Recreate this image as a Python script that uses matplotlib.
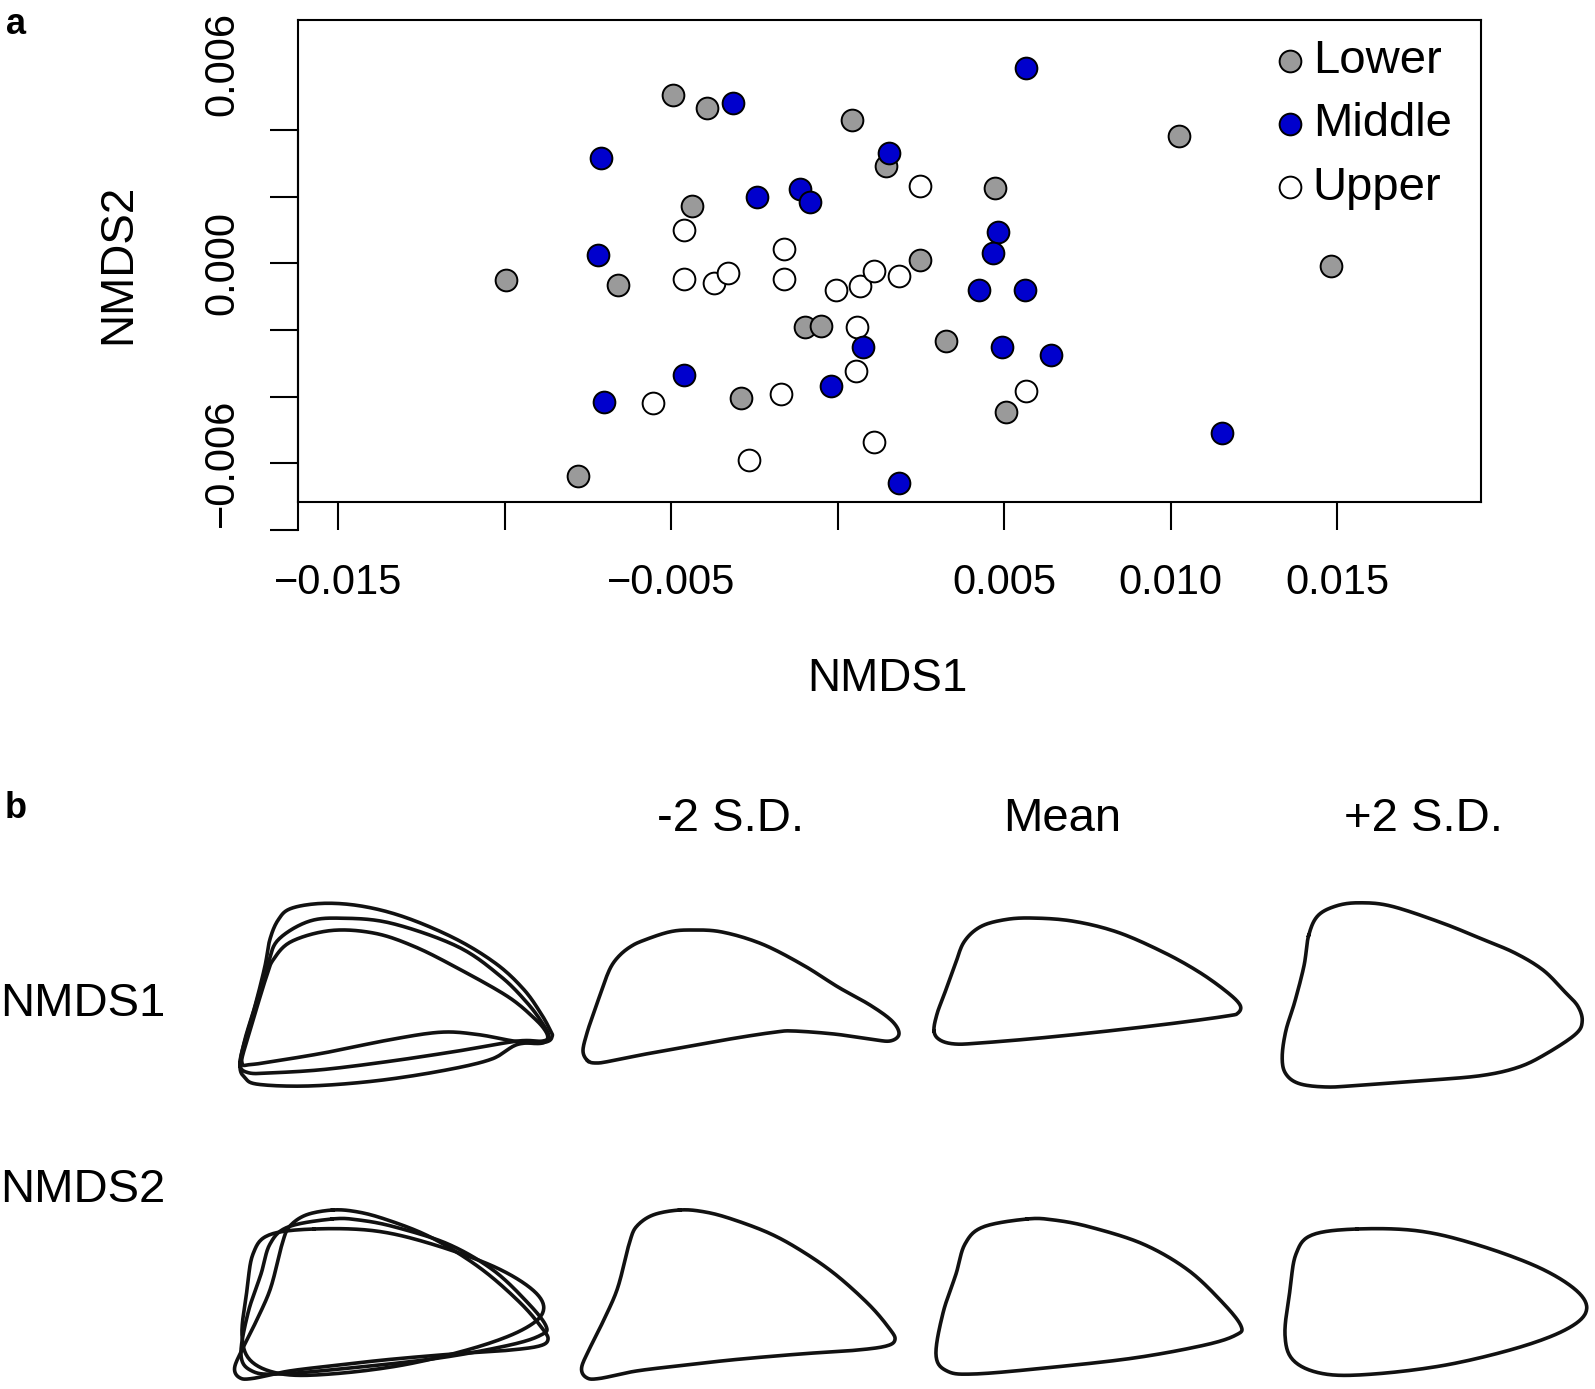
import numpy as np
import matplotlib
matplotlib.use("Agg")
import matplotlib.pyplot as plt
from matplotlib.ticker import FixedLocator, FixedFormatter

plt.rcParams['font.family'] = ['Liberation Sans', 'DejaVu Sans']

# ---------------- data: NMDS scores (panel a) ----------------
lower_x = [-0.00496, -0.00393, 0.00043, 0.01025, 0.00144, -0.00438, 0.00472, -0.00997, -0.00660,
           0.00246, -0.00099, -0.00050, 0.00324, -0.00290, 0.00504, -0.00780, 0.01480]
lower_y = [0.00505, 0.00467, 0.00430, 0.00383, 0.00294, 0.00171, 0.00227, -0.00050, -0.00065,
           0.00009, -0.00191, -0.00188, -0.00233, -0.00403, -0.00447, -0.00638, -0.00009]
middle_x = [0.00565, -0.00316, -0.00710, 0.00154, -0.00243, -0.00113, -0.00084, -0.00721, 0.00480,
            0.00467, 0.00423, 0.00561, 0.00076, 0.00493, 0.00640, -0.00461, -0.00020, -0.00703,
            0.01153, 0.00185]
middle_y = [0.00588, 0.00483, 0.00318, 0.00333, 0.00199, 0.00224, 0.00183, 0.00024, 0.00094,
            0.00030, -0.00080, -0.00080, -0.00250, -0.00252, -0.00274, -0.00335, -0.00367, -0.00415,
            -0.00509, -0.00659]
upper_x = [0.00246, -0.00463, -0.00160, -0.00463, -0.00371, -0.00331, -0.00160, -0.00006, 0.00066,
           0.00108, 0.00185, 0.00058, 0.00054, 0.00564, -0.00170, -0.00554, 0.00108, -0.00267]
upper_y = [0.00232, 0.00100, 0.00042, -0.00047, -0.00059, -0.00029, -0.00047, -0.00079, -0.00067,
           -0.00024, -0.00039, -0.00192, -0.00323, -0.00382, -0.00393, -0.00418, -0.00536, -0.00591]
group_names = ['Lower', 'Middle', 'Upper']

x_ticks = [-0.015, -0.010, -0.005, 0.000, 0.005, 0.010, 0.015]
x_ticklabels = ['\u22120.015', '', '\u22120.005', '', '0.005', '0.010', '0.015']
y_ticks = [-0.008, -0.006, -0.004, -0.002, 0.000, 0.002, 0.004]
y_label_pos = [-0.006, 0.000, 0.006]
y_ticklabels = ['\u22120.006', '0.000', '0.006']

# ---------------- data: digitised outlines (panel b) ----------------
row1_minus = [(588,1061),(583,1051),(587,1033),(593,1015),(600,995),(606,978),(612,965),(620,955),
              (630,947),(642,941),(669,932),(691,930),(722,932),(762,944),(803,965),(838,987),
              (870,1005),(892,1021),(899,1034),(890,1041),(870,1039),(834,1034),(794,1031),
              (776,1032),(736,1038),(691,1046),(646,1054),(611,1061),(597,1063)]
row1_mean = [(934,1031),(937,1014),(944,995),(955,965),(964,942),(980,927),(1003,920),(1030,918),
             (1072,921),(1117,932),(1163,952),(1199,972),(1227,992),(1240,1005),(1238,1013),
             (1227,1016),(1176,1023),(1108,1031),(1040,1038),(980,1043),(955,1044),(940,1040)]
row1_plus = [(1308.6,935.7),(1317.7,915.9),(1336,906),(1358.8,902.8),(1390.7,906),(1440.9,922.5),
             (1481.9,939),(1515,953),(1543,970),(1564,991),(1577.7,1006),(1582.2,1021.2),
             (1575.4,1034.3),(1545.8,1054),(1518.4,1067.2),(1481.9,1075.5),(1427.2,1080.4),
             (1358.8,1085.3),(1326.9,1087),(1299.5,1083.7),(1285.8,1073.8),(1282.2,1057.4),
             (1285.8,1031),(1294.9,1001.4),(1304.1,965.3)]
row2_minus = [(679.6,1210),(653,1215),(636.4,1226.6),(629.8,1241.5),(624.8,1261.4),(616.5,1291.3),
              (603.2,1321.2),(590,1347.8),(581.6,1367.8),(586.6,1377.7),(600,1378.4),(636.4,1371),
              (686.3,1365),(736,1359.5),(802.6,1353.8),(852.4,1350.5),(885.6,1346.2),(895,1339.5),
              (889,1328),(869,1304.6),(835.8,1274.7),(802.6,1251.5),(769.3,1233.2),(729.5,1218.3),
              (702.9,1211.6)]
row2_mean = [(1027,1219),(983,1227),(965,1244),(956,1274),(943,1313),(936,1355),(947,1371),
             (974,1374),(1045,1368),(1134,1358),(1205,1345),(1236,1335),(1241,1326),(1223,1303),
             (1188,1270),(1143,1244),(1090,1227),(1054,1220)]
row2_plus = [(1357,1229),(1312,1235),(1296,1254),(1290,1290),(1285,1335),(1294,1361),(1325,1374),
             (1374,1374),(1446,1365),(1517,1348),(1565,1330),(1586,1312),(1578,1292),(1540,1268),
             (1478,1245),(1419,1231)]
# superimposed outlines shown in the first column of row 1
row1_super = [
    [(240.0,1066.1),(244.9,1039.5),(254.9,1006.3),(264.9,966.4),(269.8,939.8),(278.2,919.9),
     (291.4,908.3),(324.7,903.3),(364.5,906.6),(407.7,918.2),(457.5,939.8),(497.4,964.7),
     (524.0,989.7),(540.6,1012.9),(549.9,1029.5),(552.2,1036.2),(545.6,1042.1),(517.3,1044.5),
     (490.8,1059.4),(440.9,1071.0),(374.5,1081.0),(308.1,1086.0),(258.2,1084.3),(244.9,1077.7)],
    [(240.0,1062.7),(248.3,1029.5),(258.2,996.3),(268.2,963.1),(278.2,939.8),(308.1,921.6),
     (341.3,918.2),(391.1,923.2),(457.5,946.5),(500.7,976.4),(527.3,1003.0),(542.2,1022.9),
     (548.9,1036.2),(542.2,1041.1),(517.3,1041.1),(457.5,1051.1),(391.1,1061.1),(324.7,1069.4),
     (274.8,1072.7),(248.3,1072.7)],
    [(241.6,1062.7),(248.3,1036.2),(258.2,1002.9),(266.5,976.4),(273.2,959.8),(291.4,941.5),
     (331.3,930.5),(374.5,933.2),(414.3,946.5),(457.5,968.1),(507.4,996.3),(533.9,1017.9),
     (545.6,1031.2),(547.2,1039.5),(538.9,1043.5),(514.0,1041.1),(477.5,1034.5),(440.9,1032.2),
     (391.1,1039.5),(324.7,1052.8),(274.8,1061.1),(251.6,1064.4)],
]
col_titles = ['-2 S.D.', 'Mean', '+2 S.D.']
row_titles = ['NMDS1', 'NMDS2']

# ---------------- layout ----------------
W, H = 1595, 1389
fig = plt.figure(figsize=(W / 100, H / 100), dpi=100)
fig.patch.set_facecolor('white')

def fx(px):
    return px / W

def fy(py):
    return 1 - py / H

BL, BT, BR, BB = 298, 20, 1481, 501.5
XLIM = (-0.01621, 0.01932)
YLIM = (-0.00715, 0.00731)
LW = 1.5

# y-axis (R-style, extends below the box)
ppu = (BB - BT) / (YLIM[1] - YLIM[0])
ybot_px = BT + (YLIM[1] - y_ticks[0]) * ppu
ax_y = fig.add_axes([fx(BL), fy(ybot_px), (BR - BL) / W, (ybot_px - BT) / H])
ax_y.set_facecolor('none')
ax_y.set_ylim(y_ticks[0], YLIM[1])
ax_y.set_xlim(0, 1)
for s in ['top', 'right', 'bottom']:
    ax_y.spines[s].set_visible(False)
ax_y.spines['left'].set_linewidth(LW)
ax_y.spines['left'].set_bounds(y_ticks[0], y_ticks[-1])
ax_y.set_xticks([])
ax_y.yaxis.remove_overlapping_locs = False
ax_y.yaxis.set_major_locator(FixedLocator(y_label_pos))
ax_y.yaxis.set_major_formatter(FixedFormatter(y_ticklabels))
ax_y.yaxis.set_minor_locator(FixedLocator(y_ticks))
ax_y.tick_params(axis='y', which='major', length=0, pad=40, labelsize=30, labelrotation=90)
ax_y.tick_params(axis='y', which='minor', length=20.5, width=LW, direction='out')
for lbl in ax_y.get_yticklabels():
    lbl.set_va('center')

ax = fig.add_axes([fx(BL), fy(BB), (BR - BL) / W, (BB - BT) / H])
ax.set_facecolor('none')
ax.set_xlim(XLIM)
ax.set_ylim(YLIM)
for s in ax.spines.values():
    s.set_linewidth(LW)
ax.set_yticks([])
ax.xaxis.set_major_locator(FixedLocator(x_ticks))
ax.xaxis.set_major_formatter(FixedFormatter(x_ticklabels))
ax.tick_params(axis='x', direction='out', length=20, width=LW, pad=24, labelsize=30)

S = 245
EW = 1.4
h_low = ax.scatter(lower_x, lower_y, s=S, c='#9a9a9a', edgecolors='black', linewidths=EW, zorder=3)
h_up = ax.scatter(upper_x, upper_y, s=S, c='white', edgecolors='black', linewidths=EW, zorder=3)
h_mid = ax.scatter(middle_x, middle_y, s=S, c='#0000cd', edgecolors='black', linewidths=EW, zorder=3)

fs_leg = 34
leg = ax.legend([h_low, h_mid, h_up], group_names, loc='upper left',
                bbox_to_anchor=((1276 - BL) / (BR - BL), (BB - 39) / (BB - BT)),
                frameon=False, fontsize=fs_leg, borderaxespad=0, borderpad=0,
                handlelength=0.6, handletextpad=0.18, labelspacing=0.41, scatterpoints=1)

fig.text(fx(887), fy(679), 'NMDS1', ha='center', va='center', fontsize=33)
fig.text(fx(118), fy(264), 'NMDS2', ha='center', va='center', rotation=90, fontsize=33)
fig.text(fx(16), fy(24), 'a', ha='center', va='center', fontsize=26, fontweight='bold')
fig.text(fx(16), fy(808), 'b', ha='center', va='center', fontsize=26, fontweight='bold')

# ---------------- panel b ----------------
def smooth_closed(pts, n=16):
    P = np.asarray(pts, float)
    N = len(P)
    t = np.linspace(0, 1, n, endpoint=False)[:, None]
    segs = []
    for i in range(N):
        p0, p1, p2, p3 = P[(i - 1) % N], P[i], P[(i + 1) % N], P[(i + 2) % N]
        segs.append(0.5 * ((2 * p1) + (-p0 + p2) * t + (2 * p0 - 5 * p1 + 4 * p2 - p3) * t ** 2
                           + (-p0 + 3 * p1 - 3 * p2 + p3) * t ** 3))
    segs.append(P[:1])
    return np.vstack(segs)

CX = [392, 739, 1087, 1435]
CW = 347
ROWS = [(860, 1110), (1180, 1389)]
SLW = 2.6

def cell_axes(col_pos, col_frame, row):
    top, bot = ROWS[row]
    a = fig.add_axes([fx(CX[col_pos] - CW / 2), fy(bot), CW / W, (bot - top) / H])
    a.set_xlim(CX[col_frame] - CW / 2, CX[col_frame] + CW / 2)
    a.set_ylim(bot, top)
    a.axis('off')
    return a

def draw(a, pts):
    o = smooth_closed(pts)
    a.plot(o[:, 0], o[:, 1], color='#111111', lw=SLW, solid_joinstyle='round', clip_on=False)

rows_shapes = [[row1_minus, row1_mean, row1_plus], [row2_minus, row2_mean, row2_plus]]
for r, shapes in enumerate(rows_shapes):
    for c, pts in enumerate(shapes):
        draw(cell_axes(c + 1, c + 1, r), pts)
# superimposition column
a0 = cell_axes(0, 0, 0)
for pts in row1_super:
    draw(a0, pts)
for c, pts in enumerate(rows_shapes[1]):
    draw(cell_axes(0, c + 1, 1), pts)

for x, t in zip([731, 1062, 1423], col_titles):
    fig.text(fx(x), fy(819), t, ha='center', va='center', fontsize=34)
for y, t in zip([1004, 1190], row_titles):
    fig.text(fx(0), fy(y), t, ha='left', va='center', fontsize=34)

fig.savefig('out.png', dpi=100, facecolor='white')
